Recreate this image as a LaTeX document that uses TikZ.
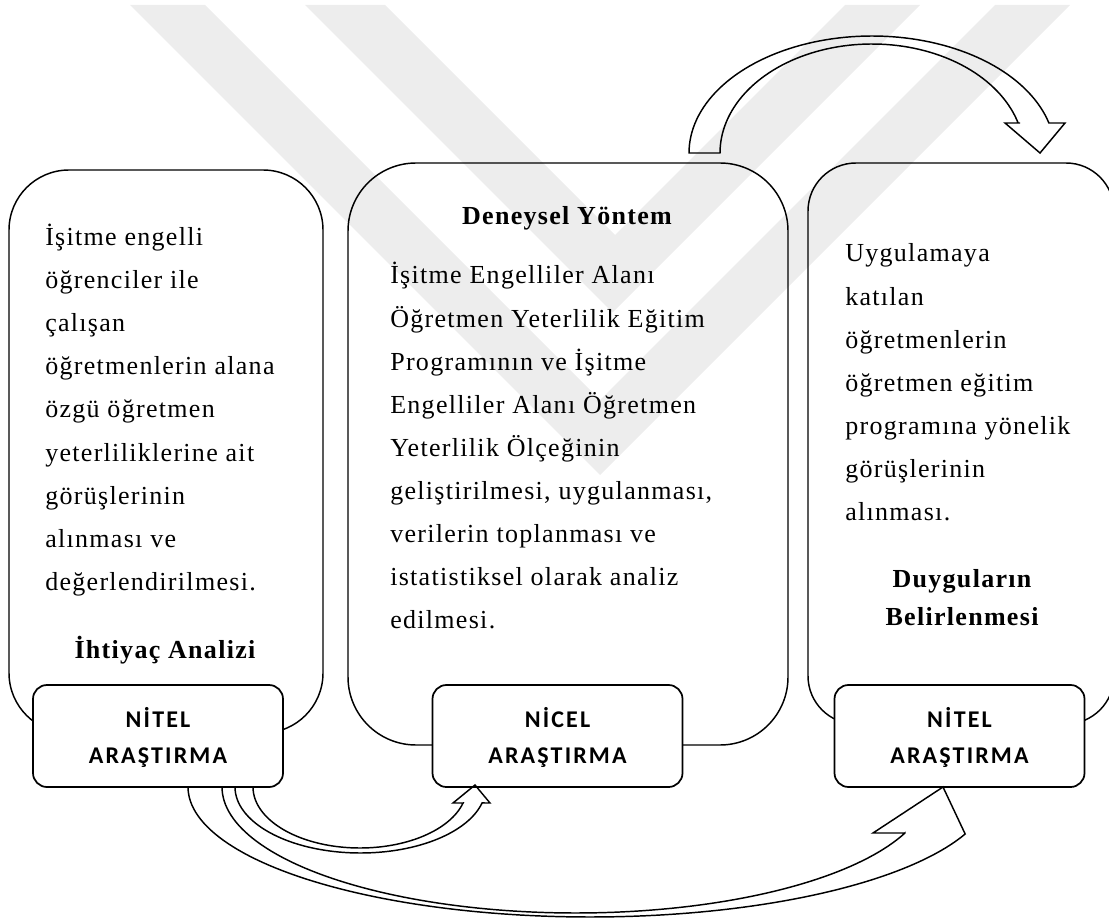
\documentclass[tikz,border=0pt]{standalone}
\usepackage{fontspec}
\setmainfont{Liberation Serif}
\newfontfamily\bodyfont{Liberation Serif}[LetterSpace=5]
\newfontfamily\labfont{Carlito}[LetterSpace=9]
\begin{document}
\begin{tikzpicture}[x=0.75pt,y=-0.75pt,
  bigbox/.style={draw, line width=1.1pt, rectangle, inner sep=0pt},
  smallbox/.style={draw, line width=1.3pt, fill=white, rectangle, rounded corners=10.5pt,
    minimum width=187.5pt, minimum height=76.5pt, inner sep=0pt},
  body/.style={anchor=base west, inner sep=0pt, font=\bodyfont\fontsize{19.5}{23}\selectfont},
  ttl/.style={anchor=base, inner sep=0pt, font=\bodyfont\bfseries\fontsize{19.5}{23}\selectfont},
  lab/.style={anchor=base, inner sep=0pt, font=\labfont\bfseries\fontsize{18}{21}\selectfont},
  blockarrow/.style={draw, line width=1.1pt, line join=miter},
  wm/.style={fill=black!7, draw=none}]
\useasboundingbox (0,0) rectangle (1109,919);

% watermark
\fill[wm] (305,5) -- (385,5) -- (615,235) -- (845,5) -- (920,5) -- (612.5,312.5) -- cycle;
\fill[wm] (130,5) -- (205,5) -- (600,400) -- (995,5) -- (1070,5) -- (600,475) -- cycle;

% big boxes
\node[bigbox, rounded corners=45pt, minimum width=235.5pt, minimum height=422.25pt] (b1) at (166,451.5) {};
\node[bigbox, rounded corners=51pt, minimum width=330pt, minimum height=436.5pt] (b2) at (568,454) {};
\node[bigbox, rounded corners=36pt, minimum width=229.5pt, minimum height=420.75pt] (b3) at (961,443.5) {};

% small boxes
\node[smallbox] (s1) at (158,736) {};
\node[smallbox] (s2) at (557.5,736) {};
\node[smallbox] (s3) at (959.5,736) {};
\node[lab] (s1a) at (158,727) {NİTEL};
\node[lab] (s1b) at (158,763) {ARAŞTIRMA};
\node[lab] (s2a) at (557.5,727) {NİCEL};
\node[lab] (s2b) at (557.5,763) {ARAŞTIRMA};
\node[lab] (s3a) at (959.5,727) {NİTEL};
\node[lab] (s3b) at (959.5,763) {ARAŞTIRMA};

% box 1 text
\foreach \i/\t in {0/{İşitme engelli},1/{öğrenciler ile},2/{çalışan},3/{öğretmenlerin alana},
  4/{özgü öğretmen},5/{yeterliliklerine ait},6/{görüşlerinin},7/{alınması ve},8/{değerlendirilmesi.}}
  \node[body] (t1l\i) at (45,{245.5+43.1*\i}) {\t};
\node[ttl] (t1h) at (165,658) {İhtiyaç Analizi};

% box 2 text
\node[ttl] (t2h) at (567,224.5) {Deneysel Yöntem};
\foreach \i/\t in {0/{İşitme Engelliler Alanı},1/{Öğretmen Yeterlilik Eğitim},2/{Programının ve İşitme},
  3/{Engelliler Alanı Öğretmen},4/{Yeterlilik Ölçeğinin},5/{geliştirilmesi, uygulanması,},
  6/{verilerin toplanması ve},7/{istatistiksel olarak analiz},8/{edilmesi.}}
  \node[body] (t2l\i) at (390,{284+43.1*\i}) {\t};

% box 3 text
\foreach \i/\t in {0/{Uygulamaya},1/{katılan},2/{öğretmenlerin},3/{öğretmen eğitim},
  4/{programına yönelik},5/{görüşlerinin},6/{alınması.}}
  \node[body] (t3l\i) at (845,{262+43.1*\i}) {\t};
\node[ttl] (t3h1) at (962,587) {Duyguların};
\node[ttl] (t3h2) at (962,625) {Belirlenmesi};

% top curved arrow (box 2 -> box 3)
\draw[blockarrow] (689,153)
  -- plot[domain=180:345.15, samples=80] ({872+183*cos(\x)},{153+117*sin(\x)})
  -- (1065,123) -- (1040,153) -- (1005,123) -- (1020,123)
  -- plot[domain=344.03:180, samples=80] ({872+152*cos(\x)},{153+109*sin(\x)})
  -- cycle;

% short bottom arrow (s1 -> s2)
\draw[blockarrow] (235,787)
  -- plot[domain=180:14, samples=80] ({360.4+125.4*cos(\x)},{787+66*sin(\x)})
  -- (490,803) -- (475,785) -- (453,803) -- (463,803)
  -- plot[domain=15.2:180, samples=80] ({359.9+106.9*cos(\x)},{787+61*sin(\x)})
  -- cycle;

% long bottom arrow (s1 -> s3)
\draw[blockarrow] (188,787)
  -- plot[domain=180:21.2, samples=100] ({590.2+402.2*cos(\x)},{787+130*sin(\x)})
  -- (943,787) -- (873,833) -- (905,833)
  -- plot[domain=21.4:180, samples=100] ({575.7+353.7*cos(\x)},{787+126*sin(\x)})
  -- cycle;
\end{tikzpicture}
\end{document}
